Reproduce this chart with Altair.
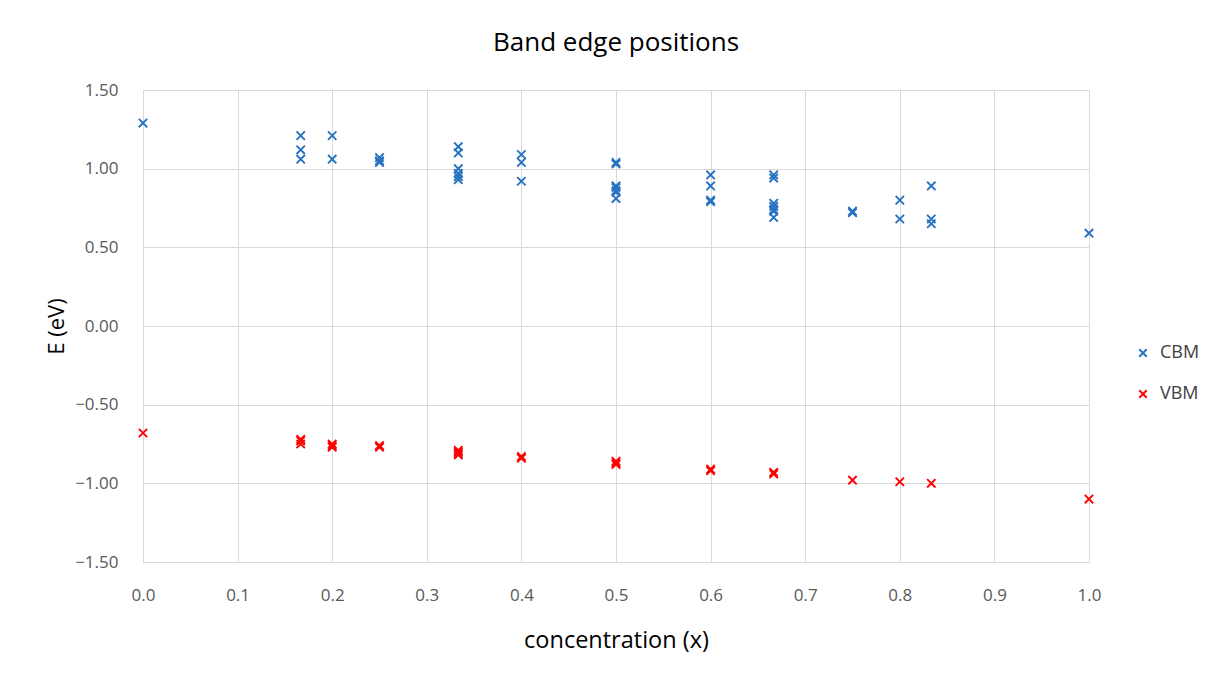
import altair as alt
import pandas as pd

# CBM series (concentration, energy in eV)
cbm_x = [0.0,
         0.1667, 0.1667, 0.1667,
         0.2, 0.2,
         0.25, 0.25, 0.25,
         0.3333, 0.3333, 0.3333, 0.3333, 0.3333, 0.3333,
         0.4, 0.4, 0.4,
         0.5, 0.5, 0.5, 0.5, 0.5, 0.5, 0.5,
         0.6, 0.6, 0.6, 0.6,
         0.6667, 0.6667, 0.6667, 0.6667, 0.6667, 0.6667, 0.6667,
         0.75, 0.75,
         0.8, 0.8,
         0.8333, 0.8333, 0.8333,
         1.0]
cbm_e = [1.29,
         1.21, 1.12, 1.06,
         1.21, 1.06,
         1.07, 1.05, 1.04,
         1.14, 1.10, 1.00, 0.97, 0.95, 0.93,
         1.09, 1.04, 0.92,
         1.04, 1.03, 0.89, 0.88, 0.86, 0.85, 0.81,
         0.96, 0.89, 0.80, 0.79,
         0.96, 0.94, 0.78, 0.76, 0.74, 0.73, 0.69,
         0.73, 0.72,
         0.80, 0.68,
         0.89, 0.68, 0.65,
         0.59]

# VBM series
vbm_x = [0.0,
         0.1667, 0.1667, 0.1667,
         0.2, 0.2, 0.2,
         0.25, 0.25,
         0.3333, 0.3333, 0.3333, 0.3333,
         0.4, 0.4,
         0.5, 0.5, 0.5,
         0.6, 0.6,
         0.6667, 0.6667,
         0.75,
         0.8,
         0.8333,
         1.0]
vbm_e = [-0.68,
         -0.72, -0.73, -0.75,
         -0.75, -0.76, -0.77,
         -0.76, -0.77,
         -0.79, -0.80, -0.81, -0.82,
         -0.83, -0.84,
         -0.86, -0.87, -0.88,
         -0.91, -0.92,
         -0.93, -0.94,
         -0.98,
         -0.99,
         -1.00,
         -1.10]

series_names = ["CBM", "VBM"]
series_colors = ["#2672C0", "#FF0000"]
x_ticks = [0.0, 0.1, 0.2, 0.3, 0.4, 0.5, 0.6, 0.7, 0.8, 0.9, 1.0]
y_ticks = [-1.5, -1.0, -0.5, 0.0, 0.5, 1.0, 1.5]

df = pd.concat([
    pd.DataFrame({"x": cbm_x, "E": cbm_e, "series": "CBM"}),
    pd.DataFrame({"x": vbm_x, "E": vbm_e, "series": "VBM"}),
])

FONT = "Open Sans"
xshape = "M-1,-1L1,1M-1,1L1,-1"

chart = alt.Chart(df).mark_point(
    shape=xshape, filled=False, strokeWidth=1.9, size=70, opacity=1
).encode(
    x=alt.X("x:Q", scale=alt.Scale(domain=[0, 1], nice=False),
            axis=alt.Axis(values=x_ticks, format=".1f", title="concentration (x)",
                          grid=True, gridColor="#d9d9d9", domain=False, ticks=False,
                          labelFont=FONT, labelFontSize=17, labelColor="#595959",
                          labelPadding=25, labelFlush=False,
                          titleFont=FONT, titleFontSize=23.5,
                          titleFontWeight="normal", titleColor="#000000",
                          titleY=78, titleBaseline="middle")),
    y=alt.Y("E:Q", scale=alt.Scale(domain=[-1.5, 1.5], nice=False),
            axis=alt.Axis(values=y_ticks, format=".2f", title="E (eV)",
                          grid=True, gridColor="#d9d9d9", domain=False, ticks=False,
                          labelFont=FONT, labelFontSize=17, labelColor="#595959",
                          labelPadding=25, labelFlush=False,
                          titleFont=FONT, titleFontSize=22,
                          titleFontWeight="normal", titleColor="#000000",
                          titleX=-87, titleY=236, titleBaseline="middle",
                          titleAngle=270)),
    color=alt.Color("series:N", scale=alt.Scale(domain=series_names, range=series_colors),
                    legend=alt.Legend(title=None, orient="none", legendX=991, legendY=254,
                                      labelFont=FONT, labelFontSize=18,
                                      labelColor="#404040", symbolSize=55,
                                      symbolStrokeWidth=1.9, rowPadding=23,
                                      labelOffset=8)),
    shape=alt.value(xshape),
).properties(
    width=946,
    height=472,
    title=alt.TitleParams("Band edge positions", font=FONT, fontSize=26,
                          fontWeight="normal", color="#000000", anchor="middle",
                          baseline="bottom", offset=-1),
    autosize=alt.AutoSizeParams(type="none"),
    padding={"left": 143, "top": 90, "right": 124, "bottom": 113},
).configure_view(stroke=None).configure(background="white")

chart.save("out.html", embed_options={"renderer": "svg", "actions": False})
